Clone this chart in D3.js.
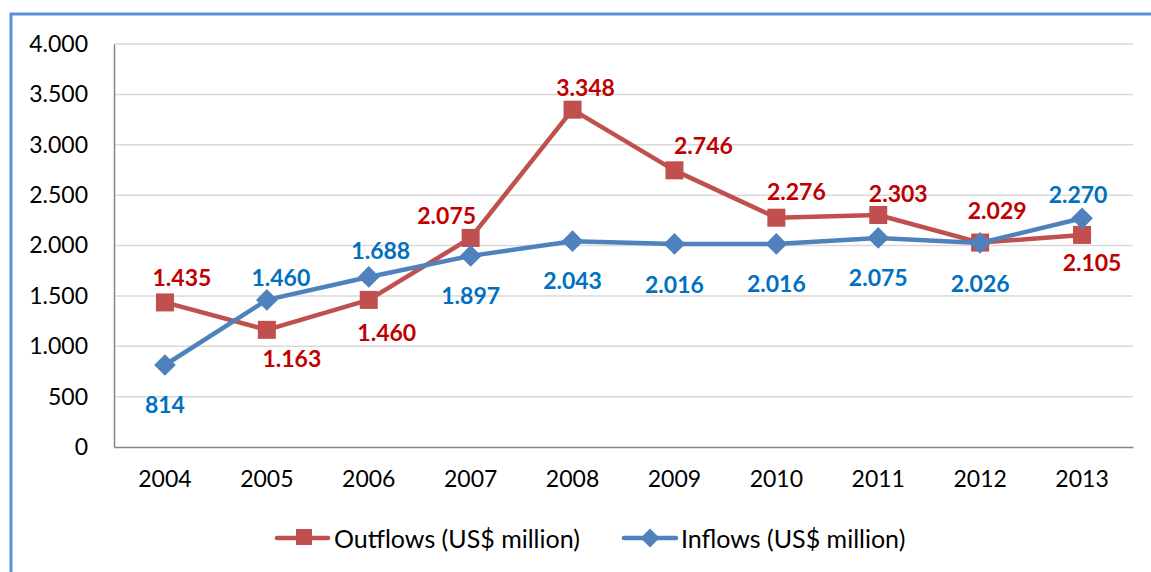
<!DOCTYPE html>
<html>
<head>
<meta charset="utf-8">
<script src="https://cdn.jsdelivr.net/npm/d3@7"></script>
<style>
  body { margin: 0; background: #fff; }
  svg text { font-family: Lato, "Open Sans", sans-serif; }
</style>
</head>
<body>
<svg id="chart" width="1151" height="572"></svg>
<script>
// data
var years = ["2004","2005","2006","2007","2008","2009","2010","2011","2012","2013"];
var outflows = [1435, 1163, 1460, 2075, 3348, 2746, 2276, 2303, 2029, 2105];
var inflows = [814, 1460, 1688, 1897, 2043, 2016, 2016, 2075, 2026, 2270];
var yTicks = [0, 500, 1000, 1500, 2000, 2500, 3000, 3500, 4000];

// label nudges (dx, dy from the point) as placed in the original
var outNudge = [[17,-25],[25,28],[18,32],[-24,-23],[13,-23],[29,-25],[20,-27],[20,-22],[17,-33],[10,27]];
var inNudge = [[0,39],[14,-23],[12,-27],[0,39],[0,39],[0,40],[0,39],[0,39],[0,40],[-4,-24]];

var redLine = "#C0504D", blueLine = "#4F81BD";
var redText = "#C00000", blueText = "#0070C0";

var fmt = function(v) { return d3.format(",")(v).replace(/,/g, "."); };

var svg = d3.select("#chart");

// outer chart frame (only top & left visible)
svg.append("path")
    .attr("d", "M11,572 L11,14 L1151,14")
    .attr("fill", "none")
    .attr("stroke", "#5B8FD7")
    .attr("stroke-width", 3);

var pl = 114, pr = 1133, pt = 44, pb = 447;

var x = d3.scaleBand().domain(years).range([pl, pr]);
var y = d3.scaleLinear().domain([0, 4000]).range([pb, pt]);
var cx = function(d, i) { return x(years[i]) + x.bandwidth() / 2; };

// gridlines
svg.append("g")
    .selectAll("line")
    .data(yTicks.filter(function(t) { return t > 0; }))
    .enter()
    .append("line")
    .attr("x1", pl).attr("x2", pr)
    .attr("y1", function(d) { return y(d); })
    .attr("y2", function(d) { return y(d); })
    .attr("stroke", "#D9D9D9")
    .attr("stroke-width", 1.5);

// y axis
var yAxis = svg.append("g")
    .attr("transform", "translate(" + pl + ",0)")
    .call(d3.axisLeft(y).tickValues(yTicks).tickFormat(fmt).tickSize(0).tickPadding(26));
yAxis.select(".domain").attr("stroke", "#868686").attr("stroke-width", 1.5);
yAxis.selectAll("text").attr("font-size", 23).attr("fill", "#000")
    .style("font-family", "Lato, sans-serif");

// x axis
var xAxis = svg.append("g")
    .attr("transform", "translate(0," + pb + ")")
    .call(d3.axisBottom(x).tickSize(0).tickPadding(24));
xAxis.select(".domain").attr("stroke", "#868686").attr("stroke-width", 1.5);
xAxis.selectAll("text").attr("font-size", 23).attr("fill", "#000")
    .style("font-family", "Lato, sans-serif");

var line = d3.line()
    .x(function(d, i) { return cx(d, i); })
    .y(function(d) { return y(d); });

// outflows line + squares
svg.append("path")
    .datum(outflows)
    .attr("d", line)
    .attr("fill", "none")
    .attr("stroke", redLine)
    .attr("stroke-width", 4.5)
    .attr("stroke-linejoin", "round");

svg.append("g")
    .selectAll("rect")
    .data(outflows)
    .enter()
    .append("rect")
    .attr("x", function(d, i) { return cx(d, i) - 9; })
    .attr("y", function(d) { return y(d) - 9; })
    .attr("width", 18).attr("height", 18)
    .attr("fill", redLine);

// inflows line + diamonds
svg.append("path")
    .datum(inflows)
    .attr("d", line)
    .attr("fill", "none")
    .attr("stroke", blueLine)
    .attr("stroke-width", 4.5)
    .attr("stroke-linejoin", "round");

var diamond = d3.symbol().type(d3.symbolDiamond2).size(300);
svg.append("g")
    .selectAll("path")
    .data(inflows)
    .enter()
    .append("path")
    .attr("d", diamond)
    .attr("transform", function(d, i) { return "translate(" + cx(d, i) + "," + y(d) + ")"; })
    .attr("fill", blueLine);

// data labels
function labels(data, nudge, color) {
    svg.append("g")
        .selectAll("text")
        .data(data)
        .enter()
        .append("text")
        .attr("x", function(d, i) { return cx(d, i) + nudge[i][0]; })
        .attr("y", function(d, i) { return y(d) + nudge[i][1]; })
        .attr("text-anchor", "middle")
        .attr("dominant-baseline", "central")
        .attr("font-size", 23)
        .attr("font-weight", "bold")
        .attr("fill", color)
        .text(fmt);
}
labels(outflows, outNudge, redText);
labels(inflows, inNudge, blueText);

// legend
var leg = svg.append("g");
leg.append("line").attr("x1", 277).attr("x2", 328).attr("y1", 538).attr("y2", 538)
    .attr("stroke", redLine).attr("stroke-width", 4.5).attr("stroke-linecap", "round");
leg.append("rect").attr("x", 296).attr("y", 529).attr("width", 16).attr("height", 16)
    .attr("fill", redLine);
leg.append("text").attr("x", 334).attr("y", 538).attr("dominant-baseline", "central")
    .attr("font-size", 25).attr("fill", "#000").text("Outflows (US$ million)");

leg.append("line").attr("x1", 624).attr("x2", 676).attr("y1", 538).attr("y2", 538)
    .attr("stroke", blueLine).attr("stroke-width", 4.5).attr("stroke-linecap", "round");
leg.append("path").attr("d", d3.symbol().type(d3.symbolDiamond2).size(230))
    .attr("transform", "translate(650,538)").attr("fill", blueLine);
leg.append("text").attr("x", 681).attr("y", 538).attr("dominant-baseline", "central")
    .attr("font-size", 25).attr("fill", "#000").text("Inflows (US$ million)");
</script>
</body>
</html>
